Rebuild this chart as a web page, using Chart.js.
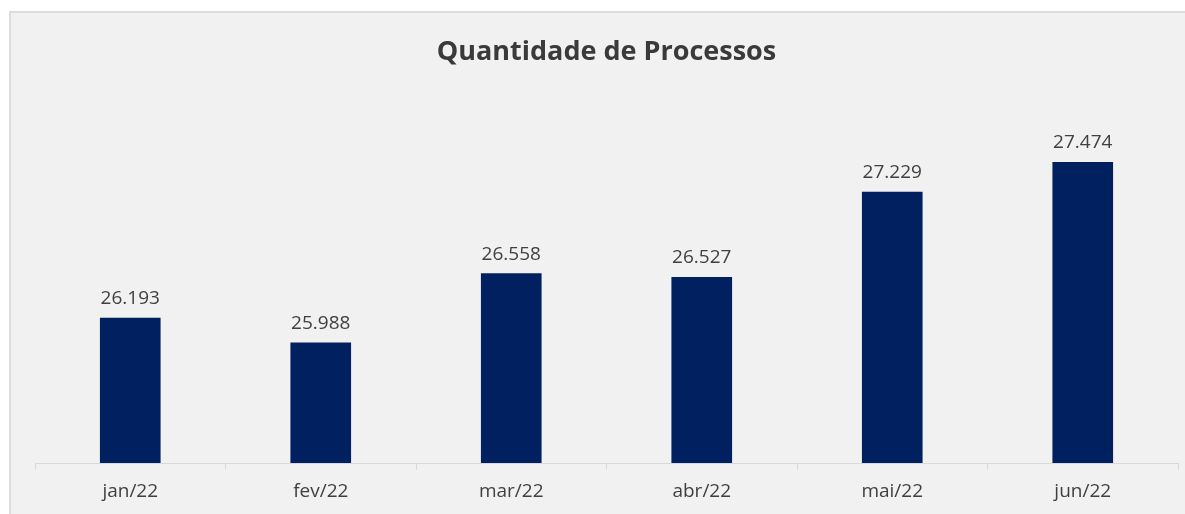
<!DOCTYPE html>
<html>
<head>
<meta charset="utf-8">
<script src="https://cdn.jsdelivr.net/npm/chart.js@4/dist/chart.umd.min.js"></script>
<style>
  html, body { margin: 0; padding: 0; background: #fff; overflow: hidden; }
  #frame {
    position: absolute; left: 9px; top: 11px; width: 1200px; height: 520px;
    background: #f1f1f1; border-left: 2px solid #dcdcdc; border-top: 2px solid #dcdcdc;
  }
  #wrap { position: absolute; left: 0; top: 0; width: 1185px; height: 514px; }
</style>
</head>
<body>
<div id="frame"></div>
<div id="wrap"><canvas id="myChart" width="1185" height="514"></canvas></div>
<script>
var meses = ['jan/22', 'fev/22', 'mar/22', 'abr/22', 'mai/22', 'jun/22']
var processos = [26193, 25988, 26558, 26527, 27229, 27474]

function formatar(v) {
  return String(v).replace(/\B(?=(\d{3})+(?!\d))/g, '.')
}

// rotulos em cima das barras
var rotulos = {
  id: 'rotulos',
  afterDatasetsDraw: function (chart) {
    var c = chart.ctx
    var meta = chart.getDatasetMeta(0)
    c.save()
    c.font = '19px "Open Sans"'
    c.fillStyle = '#404040'
    c.textAlign = 'center'
    c.textBaseline = 'bottom'
    meta.data.forEach(function (bar, i) {
      c.fillText(formatar(processos[i]), bar.x, bar.y - 10)
    })
    c.restore()
  },
}

var ctx = document.getElementById('myChart').getContext('2d')
var myChart = new Chart(ctx, {
  type: 'bar',
  data: {
    labels: meses,
    datasets: [
      {
        label: 'Quantidade de Processos',
        backgroundColor: '#002060',
        data: processos,
        barThickness: 60,
      },
    ],
  },
  plugins: [rotulos],
  options: {
    responsive: false,
    animation: { duration: 0 },
    layout: { padding: { left: 35, right: 7, top: 0, bottom: 0 } },
    plugins: {
      legend: { display: false },
      tooltip: { enabled: false },
      title: {
        display: true,
        text: 'Quantidade de Processos',
        color: '#3a3a3a',
        font: { family: '"Open Sans"', size: 27, weight: 'bold' },
        padding: { top: 36, bottom: 30 },
      },
    },
    scales: {
      y: { display: false, min: 25000, max: 28000 },
      x: {
        grid: {
          offset: true,
          drawOnChartArea: false,
          drawTicks: true,
          tickLength: 7,
          color: '#d9d9d9',
        },
        border: { display: true, color: '#d9d9d9', width: 1 },
        ticks: {
          color: '#404040',
          padding: 10.6,
          font: { family: '"Open Sans"', size: 19 },
        },
      },
    },
  },
})
</script>
</body>
</html>
